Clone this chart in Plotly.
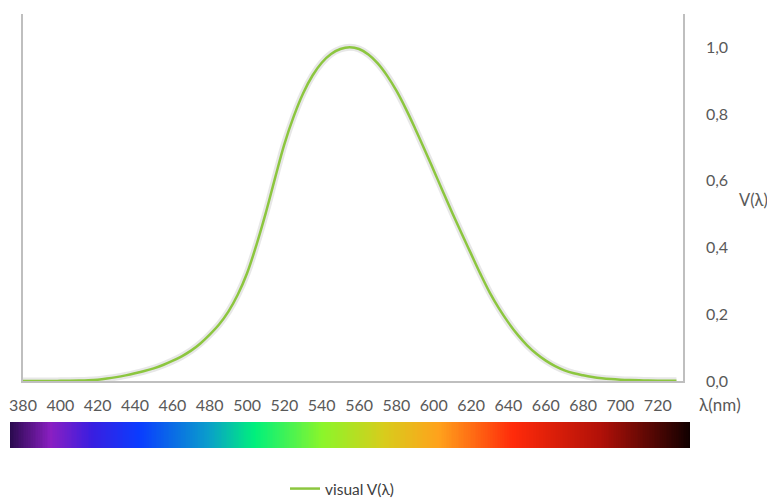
import numpy as np
import plotly.graph_objects as go

# CIE photopic luminosity V(lambda), 5 nm steps
wavelength = list(range(380, 735, 5))
v_lambda = [0.000039, 0.000064, 0.00012, 0.000217, 0.000396, 0.00064, 0.00121, 0.00218,
            0.004, 0.0073, 0.0116, 0.01684, 0.023, 0.0298, 0.038, 0.048, 0.06, 0.0739,
            0.09098, 0.1126, 0.13902, 0.1693, 0.20802, 0.2586, 0.323, 0.4073, 0.503,
            0.6082, 0.71, 0.7932, 0.862, 0.91485, 0.954, 0.9803, 0.99495, 1.0, 0.995,
            0.9786, 0.952, 0.9154, 0.87, 0.8163, 0.757, 0.6949, 0.631, 0.5668, 0.503,
            0.4412, 0.381, 0.321, 0.265, 0.217, 0.175, 0.1382, 0.107, 0.0816, 0.061,
            0.04458, 0.032, 0.0232, 0.017, 0.01192, 0.00821, 0.005723, 0.004102,
            0.002929, 0.002091, 0.001484, 0.001047, 0.00074, 0.00052]

x_ticks = list(range(380, 740, 20))
y_ticks = [0.0, 0.2, 0.4, 0.6, 0.8, 1.0]
y_tick_labels = ["0,0", "0,2", "0,4", "0,6", "0,8", "1,0"]

# spectrum bar colour stops (position 0..1 along the bar)
spectrum_pos = [0.0, 0.06, 0.12, 0.19, 0.29, 0.36, 0.46, 0.55, 0.63, 0.74, 0.87, 1.0]
spectrum_col = ["#2a0a4e", "#8a1fc2", "#3a1ee0", "#0a3cff", "#0a9ccc", "#00f07c",
                "#8cf52a", "#d8cc1c", "#ffa21c", "#ff2a0a", "#b01008", "#100000"]

W, H = 767, 501
FONT = "Lato, 'Open Sans', sans-serif"
GRAY = "#595959"
AXIS = "#bfbfbf"
GREEN = "#8cc63f"

fig = go.Figure()

# soft shadow under the curve
fig.add_trace(go.Scatter(x=wavelength, y=v_lambda, mode="lines",
                         line=dict(color="rgba(120,120,120,0.18)", width=7, shape="spline"),
                         hoverinfo="skip", showlegend=False, xaxis="x", yaxis="y"))
fig.add_trace(go.Scatter(x=wavelength, y=v_lambda, mode="lines", name="visual V(λ)",
                         line=dict(color=GREEN, width=2.5, shape="spline"),
                         xaxis="x", yaxis="y"))

# spectrum bar
n = 400
fig.add_trace(go.Heatmap(z=[list(np.linspace(0, 1, n))], x=list(np.linspace(0, 1, n)), y=[0],
                         colorscale=[[p, c] for p, c in zip(spectrum_pos, spectrum_col)],
                         showscale=False, xaxis="x2", yaxis="y2", hoverinfo="skip"))

fig.update_layout(
    width=W, height=H,
    margin=dict(l=0, r=0, t=0, b=0, autoexpand=False),
    paper_bgcolor="white", plot_bgcolor="white",
    font=dict(family=FONT, color=GRAY, size=14),
    xaxis=dict(domain=[23 / W, 683 / W], range=[380, 733.5], tickvals=x_ticks,
               showgrid=False, zeroline=False, showline=True, linecolor=AXIS, linewidth=1.5,
               ticks="", ticklabelstandoff=9, tickfont=dict(size=16, color=GRAY),
               anchor="y", automargin=False),
    yaxis=dict(domain=[(H - 381) / H, (H - 14) / H], range=[0, 1.1], side="right",
               tickvals=y_ticks, ticktext=y_tick_labels, showgrid=False, zeroline=False,
               showline=True, mirror=True, linecolor=AXIS, linewidth=1.5, ticks="",
               ticklabelstandoff=18, tickfont=dict(size=16, color=GRAY), anchor="x",
               automargin=False),
    xaxis2=dict(domain=[10 / W, 690 / W], range=[0, 1], visible=False, anchor="y2"),
    yaxis2=dict(domain=[(H - 448) / H, (H - 422) / H], range=[-0.5, 0.5], visible=False,
                anchor="x2"),
    legend=dict(orientation="h", x=342 / W, xanchor="center", y=(H - 489) / H,
                yanchor="middle", font=dict(size=15.5, color="#404040"),
                bgcolor="rgba(0,0,0,0)"),
    annotations=[
        dict(text="λ(nm)", x=720 / W, y=(H - 404) / H, xref="paper", yref="paper",
             showarrow=False, font=dict(size=17, color=GRAY), xanchor="center",
             yanchor="middle"),
        dict(text="V(λ)", x=753 / W, y=(H - 200) / H, xref="paper", yref="paper",
             showarrow=False, font=dict(size=16.5, color=GRAY), xanchor="center",
             yanchor="middle"),
    ],
)

fig.write_html("out.html")
